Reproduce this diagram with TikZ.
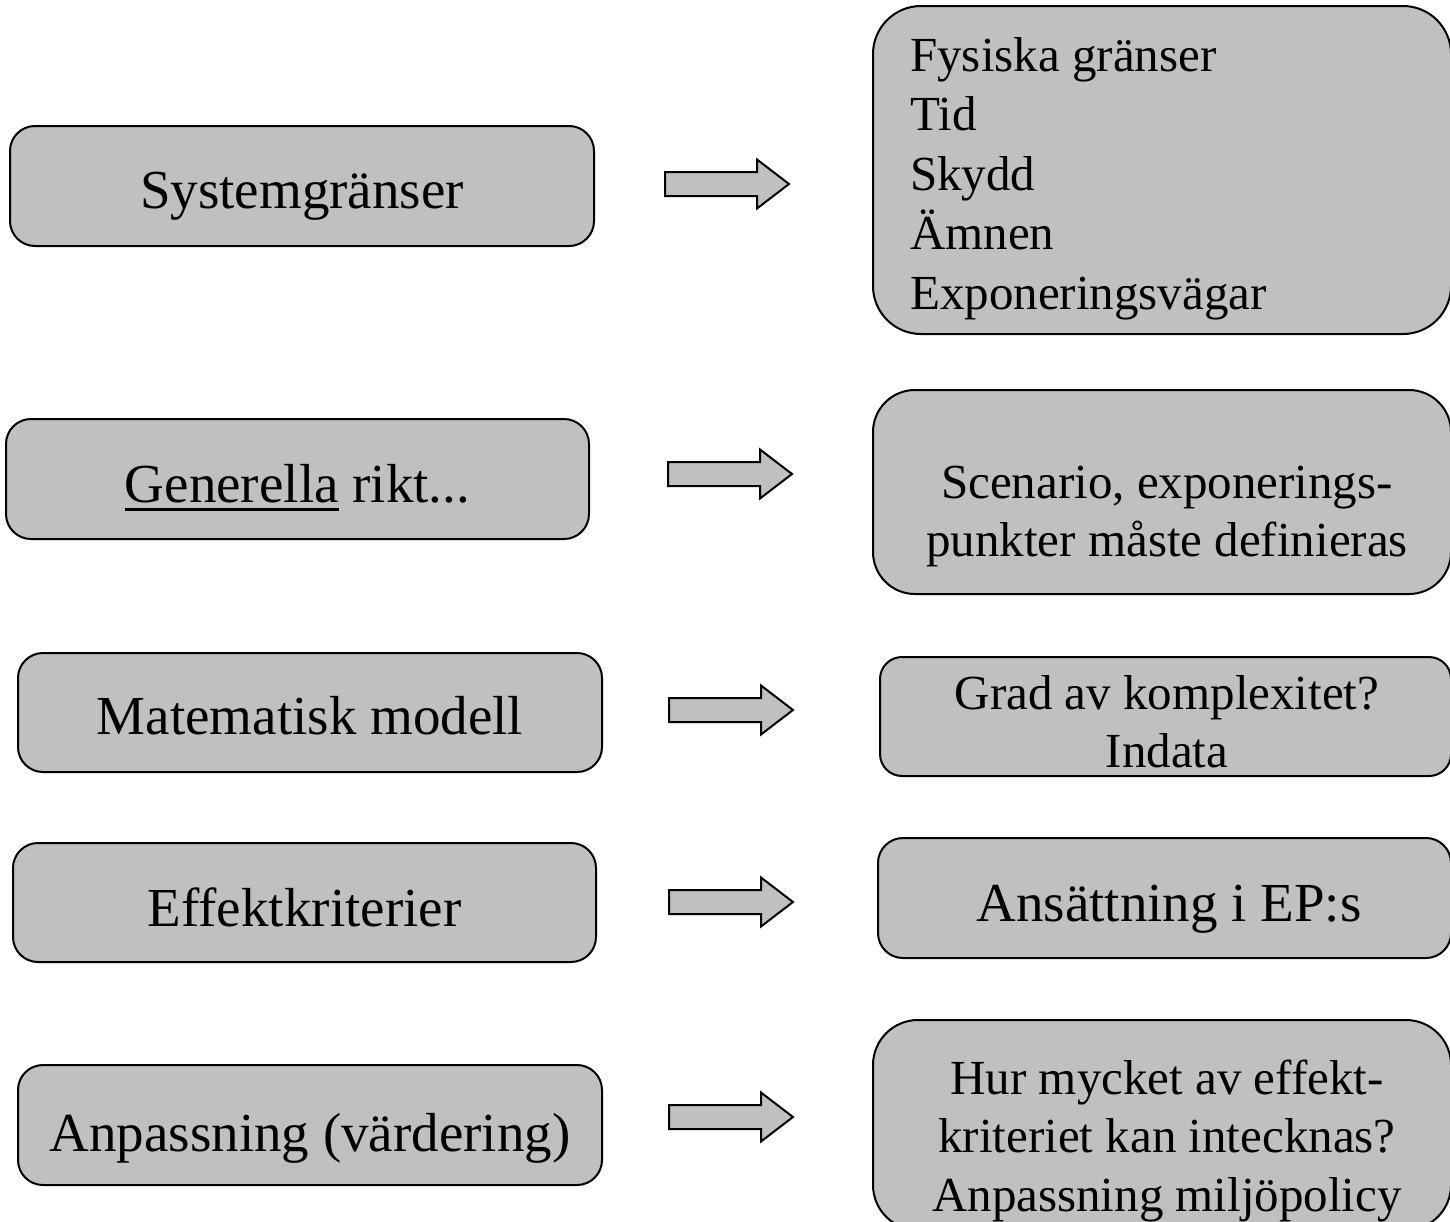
\documentclass[tikz,border=0pt]{standalone}
\usepackage{fontspec}
\setmainfont{Liberation Serif}
\definecolor{boxgray}{HTML}{C0C0C0}
\newcommand\myul[1]{\setbox0\hbox{#1}\rlap{\rule[-9pt]{\wd0}{3pt}}\box0\relax}
\newcommand\firststrut{\rule{0pt}{40pt}}
\begin{document}
\begin{tikzpicture}[x=1pt,y=-1pt,
  graybox/.style={draw=black,fill=boxgray,line width=2pt,inner sep=0pt},
  bigtext/.style={font=\fontsize{55}{66}\selectfont,inner sep=0pt,anchor=base},
  midtext/.style={font=\fontsize{49}{58.5}\selectfont,inner sep=0pt,align=center,anchor=north},
  arrowshape/.style={draw=black,fill=boxgray,line width=2pt,line join=miter},
  barrow/.pic={\path[arrowshape] (0,-12) -- (92,-12) -- (92,-24.5) -- (124,0) -- (92,24.5) -- (92,12) -- (0,12) -- cycle;}
]
\useasboundingbox (0,0) rectangle (1450,1221);
\fill[white] (0,0) rectangle (1450,1221);

% left boxes
\node[graybox,rounded corners=25pt,minimum width=584pt,minimum height=120pt] (l1) at (302,186) {};
\node[graybox,rounded corners=25pt,minimum width=583pt,minimum height=120pt] (l2) at (297.5,479) {};
\node[graybox,rounded corners=25pt,minimum width=584pt,minimum height=119pt] (l3) at (310,712.5) {};
\node[graybox,rounded corners=25pt,minimum width=583pt,minimum height=119pt] (l4) at (304.5,902.5) {};
\node[graybox,rounded corners=25pt,minimum width=584pt,minimum height=120pt] (l5) at (310,1125) {};

\node[bigtext] (t1) at (302,208) {Systemgränser};
\node[bigtext] (t2) at (297.5,502) {\myul{Generella} rikt...};
\node[bigtext] (t3) at (310,734) {Matematisk modell};
\node[bigtext] (t4) at (304.5,926) {Effektkriterier};
\node[bigtext] (t5) at (310,1151) {Anpassning (värdering)};

% right boxes
\node[graybox,rounded corners=48pt,minimum width=578pt,minimum height=328pt] (r1) at (1162,170) {};
\node[graybox,rounded corners=42pt,minimum width=578pt,minimum height=204pt] (r2) at (1162,492) {};
\node[graybox,rounded corners=22pt,minimum width=571pt,minimum height=119pt] (r3) at (1165.5,716.5) {};
\node[graybox,rounded corners=25pt,minimum width=573pt,minimum height=120pt] (r4) at (1164.5,898) {};
\node[graybox,rounded corners=45pt,minimum width=578pt,minimum height=210pt] (r5) at (1162,1125) {};

\node[font=\fontsize{49}{59.5}\selectfont,inner sep=0pt,align=left,anchor=north west] (s1) at (910,31)
  {\firststrut Fysiska gränser\\Tid\\Skydd\\Ämnen\\Exponeringsvägar};
\node[midtext] (s2) at (1167,458) {\firststrut Scenario, exponerings-\\punkter måste definieras};
\node[midtext] (s3) at (1167,669) {\firststrut Grad av komplexitet?\\Indata};
\node[bigtext] (s4) at (1169,921) {Ansättning i EP:s};
\node[midtext] (s5) at (1167,1054) {\firststrut Hur mycket av effekt-\\kriteriet kan intecknas?\\Anpassning miljöpolicy};

% block arrows
\pic at (665,184) {barrow};
\pic at (668,474) {barrow};
\pic at (669,710) {barrow};
\pic at (669,902) {barrow};
\pic at (669,1117) {barrow};
\end{tikzpicture}
\end{document}
